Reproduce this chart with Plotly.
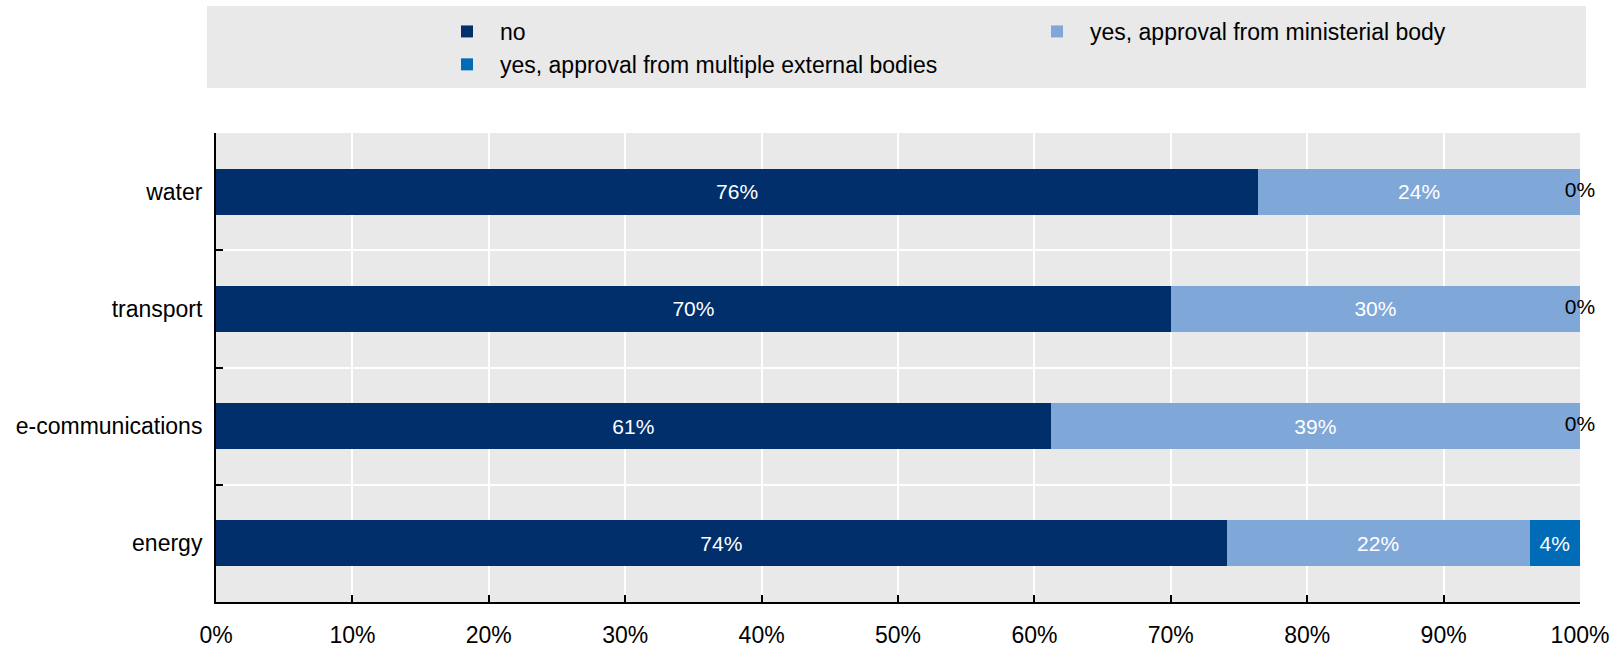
import plotly.graph_objects as go

categories = ["energy", "e-communications", "transport", "water"]
no_vals = [74.1, 61.2, 70.0, 76.4]
ministerial_vals = [22.2, 38.8, 30.0, 23.6]
multiple_vals = [3.7, 0.0, 0.0, 0.0]
x_ticks = [0, 10, 20, 30, 40, 50, 60, 70, 80, 90, 100]
x_tick_labels = [f"{t}%" for t in x_ticks]

FONT = "Liberation Sans, Arial, sans-serif"
C_NO = "#002F6C"
C_MIN = "#7FA8D9"
C_MULT = "#006BB6"
BG = "#E9E9E9"

W, H = 1616, 651
L, R, T, B = 216, 36, 133, 49
PW, PH = W - L - R, H - T - B


def px_x(p):
    return (p - L) / PW


def px_y(p):
    return (H - B - p) / PH


fig = go.Figure()
series = [
    ("no", no_vals, C_NO),
    ("yes, approval from ministerial body", ministerial_vals, C_MIN),
    ("yes, approval from multiple external bodies", multiple_vals, C_MULT),
]
for name, vals, col in series:
    fig.add_trace(go.Bar(
        name=name, y=categories, x=vals, orientation="h",
        marker=dict(color=col, line=dict(width=0)),
        text=[f"{v:.0f}%" if v > 0 else "" for v in vals],
        textposition="inside", insidetextanchor="middle",
        textfont=dict(color="white", size=21, family=FONT),
        constraintext="none",
    ))

# labels for zero-width segments, centred at the segment position
zero_x, zero_y, zero_t = [], [], []
for i, c in enumerate(categories):
    if multiple_vals[i] == 0:
        zero_x.append(no_vals[i] + ministerial_vals[i] + multiple_vals[i] / 2)
        zero_y.append(c)
        zero_t.append(f"{multiple_vals[i]:.0f}%")
fig.add_trace(go.Scatter(
    x=zero_x, y=zero_y, text=zero_t, mode="text", showlegend=False,
    textfont=dict(color="black", size=21, family=FONT), cliponaxis=False,
    hoverinfo="skip",
))

fig.add_shape(type="rect", xref="paper", yref="paper",
              x0=px_x(207), x1=px_x(1586), y0=px_y(88), y1=px_y(6),
              fillcolor=BG, line=dict(width=0), layer="below")

fig.update_layout(
    width=W, height=H,
    margin=dict(l=L, r=R, t=T, b=B, pad=0, autoexpand=False),
    barmode="stack", bargap=0.608,
    plot_bgcolor=BG, paper_bgcolor="white",
    font=dict(family=FONT, size=23, color="black"),
    legend=dict(
        orientation="h", x=px_x(434), y=px_y(10), xanchor="left", yanchor="top",
        bgcolor="rgba(0,0,0,0)", font=dict(size=23, family=FONT),
        entrywidth=519, entrywidthmode="pixels", traceorder="normal",
        itemwidth=56, tracegroupgap=0,
    ),
    xaxis=dict(
        range=[0, 100], tickvals=x_ticks, ticktext=x_tick_labels,
        showgrid=True, gridcolor="white", gridwidth=2,
        showline=True, linecolor="black", linewidth=2,
        ticks="inside", ticklen=7, tickwidth=2, tickcolor="black",
        ticklabelstandoff=11, zeroline=False, fixedrange=True,
        tickfont=dict(size=23), automargin=False,
    ),
    yaxis=dict(
        categoryorder="array", categoryarray=categories,
        range=[-0.5, 3.5], tickson="boundaries",
        showgrid=True, gridcolor="white", gridwidth=2,
        showline=True, linecolor="black", linewidth=2,
        ticks="inside", ticklen=7, tickwidth=2, tickcolor="black",
        ticklabelstandoff=7, zeroline=False, fixedrange=True,
        tickfont=dict(size=23), automargin=False,
    ),
    showlegend=True,
)

fig.write_html("out.html")
